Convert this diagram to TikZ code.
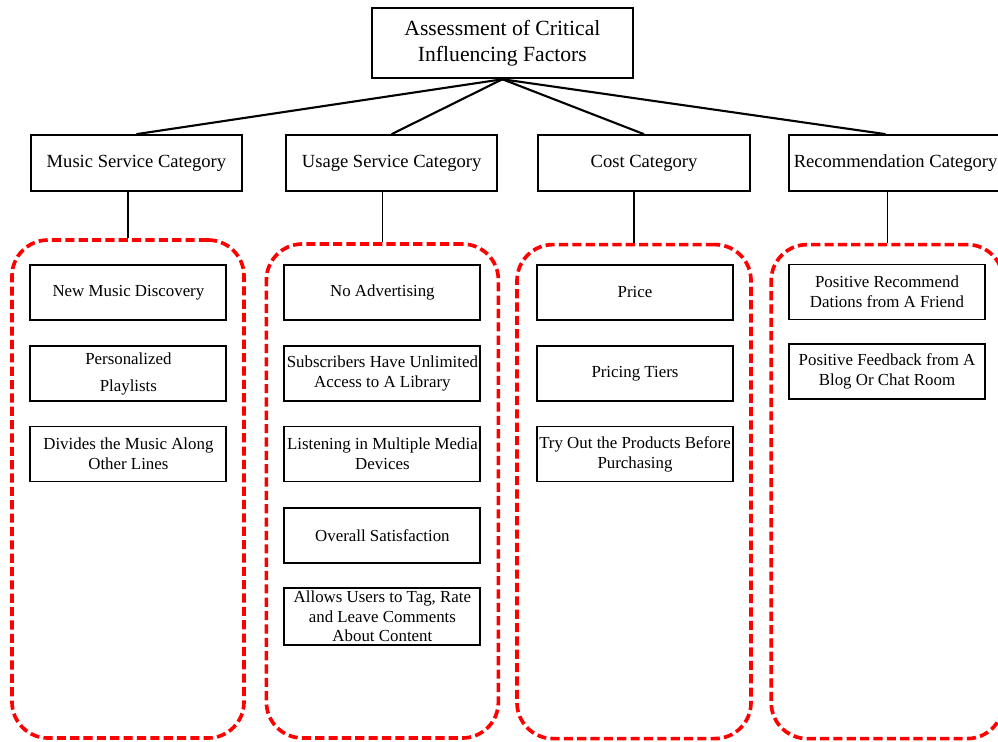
\documentclass[tikz,border=0pt]{standalone}
\usepackage{fontspec}
\setmainfont{Liberation Serif}
\usetikzlibrary{positioning}

\tikzset{
 topbox/.style={rectangle, draw, line width=1.5pt, minimum width=6.53cm, minimum height=1.75cm,
  align=center, font=\fontsize{15.4}{18.5}\selectfont},
 catbox/.style={rectangle, draw, line width=1.5pt, minimum width=5.28cm, minimum height=1.4cm,
  align=center, font=\fontsize{13.2}{15.5}\selectfont},
 itembox/.style={rectangle, draw, line width=1.4pt, minimum width=4.9cm, minimum height=1.375cm,
  inner sep=1pt, align=center, font=\fontsize{12}{14.2}\selectfont},
 groupbox/.style={rectangle, draw=red, dashed, dash pattern=on 6.5pt off 3pt, line width=2.6pt,
  rounded corners=0.9cm, minimum width=5.8cm, minimum height=12.35cm},
 link/.style={line width=1.5pt},
 drop/.style={line width=1pt}
}

\begin{document}
\begin{tikzpicture}
 \useasboundingbox (0,0) rectangle (24.95,-18.525);

 % top and categories
 \node[topbox] (top) at (12.56,-1.08) {Assessment of Critical\\Influencing Factors};
 \node[catbox] (music) at (3.41,-4.08) {Music Service Category};
 \node[catbox] (usage) at (9.79,-4.08) {Usage Service Category};
 \node[catbox] (cost) at (16.1,-4.08) {Cost Category};
 \node[catbox] (rec) at (22.39,-4.08) {Recommendation Category};

 % dashed groups
 \node[groupbox, minimum height=12.45cm] (grpmusic) at (3.2,-12.225) {};
 \node[groupbox] (grpusage) at (9.56,-12.275) {};
 \node[groupbox, minimum width=5.85cm] (grpcost) at (15.85,-12.29) {};
 \node[groupbox] (grprec) at (22.18,-12.29) {};

 % music service items
 \node[itembox] (discovery) at (3.21,-7.31) {New Music Discovery};
 \node[itembox, font=\fontsize{12}{19.2}\selectfont] (playlists) at (3.21,-9.34) {Personalized\\Playlists};
 \node[itembox] (divides) at (3.21,-11.35) {Divides the Music Along\\Other Lines};

 % usage service items
 \node[itembox] (noads) at (9.56,-7.31) {No Advertising};
 \node[itembox] (library) at (9.56,-9.34) {Subscribers Have Unlimited\\Access to A Library};
 \node[itembox] (devices) at (9.56,-11.35) {Listening in Multiple Media\\Devices};
 \node[itembox] (satisfaction) at (9.56,-13.39) {Overall Satisfaction};
 \node[itembox, minimum height=1.43cm, font=\fontsize{12}{13.9}\selectfont] (comments) at (9.56,-15.41)
  {Allows Users to Tag, Rate\\and Leave Comments\\About Content};

 % cost items
 \node[itembox] (price) at (15.875,-7.31) {Price};
 \node[itembox] (tiers) at (15.875,-9.34) {Pricing Tiers};
 \node[itembox] (tryout) at (15.875,-11.35) {Try Out the Products Before\\Purchasing};

 % recommendation items
 \node[itembox] (friend) at (22.175,-7.3) {Positive Recommend\\Dations from A Friend};
 \node[itembox] (blog) at (22.175,-9.29) {Positive Feedback from A\\Blog Or Chat Room};

 % links
 \draw[link] (top.south) -- (music.north);
 \draw[link] (top.south) -- (usage.north);
 \draw[link] (top.south) -- (cost.north);
 \draw[link] (top.south) -- ([xshift=-0.25cm]rec.north);

 \draw[drop] (grpmusic.north |- music.south) -- (grpmusic.north);
 \draw[drop] (grpusage.north |- usage.south) -- (grpusage.north);
 \draw[drop] (grpcost.north |- cost.south) -- (grpcost.north);
 \draw[drop] (grprec.north |- rec.south) -- (grprec.north);
\end{tikzpicture}
\end{document}
